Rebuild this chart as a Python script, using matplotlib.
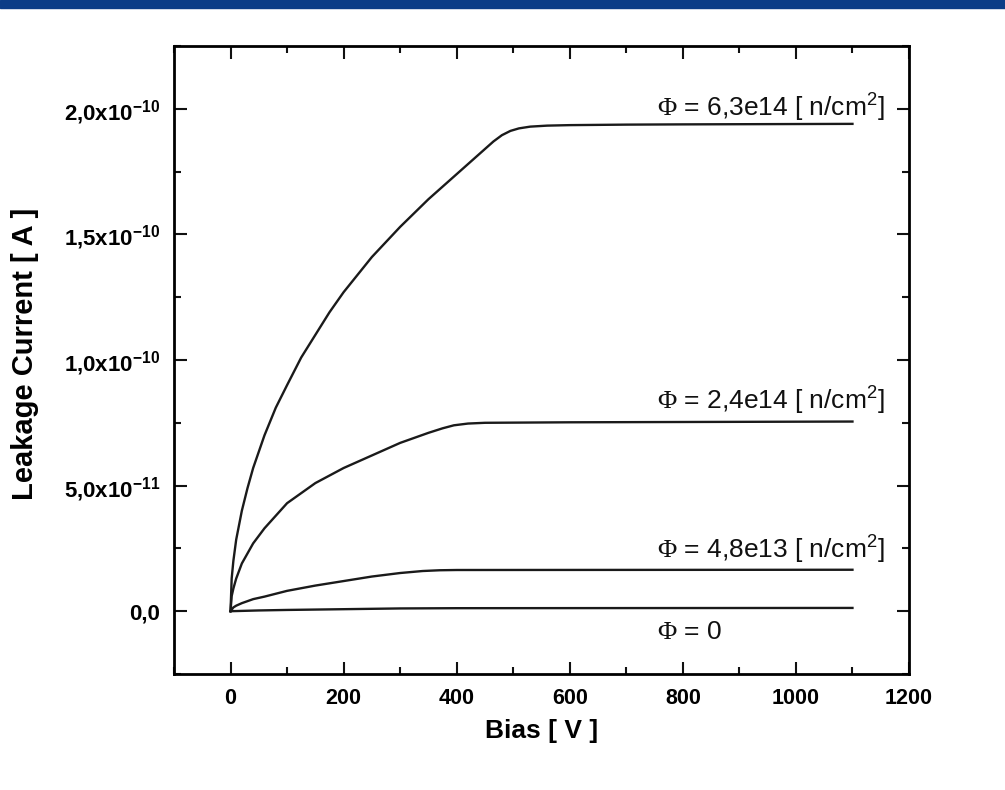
import matplotlib
matplotlib.use("Agg")
from matplotlib import pyplot as plt
from matplotlib.patches import Rectangle
from matplotlib.ticker import MultipleLocator

plt.rcParams['font.family'] = ['Liberation Sans', 'DejaVu Sans']
plt.rcParams['mathtext.default'] = 'regular'
plt.rcParams['mathtext.fontset'] = 'custom'
plt.rcParams['mathtext.rm'] = 'Liberation Serif'

# bias [V] and leakage current [1e-10 A]
phi63_v = [0, 2, 5, 10, 20, 30, 40, 60, 80, 100, 125, 150, 175, 200, 250, 300,
           350, 400, 440, 465, 480, 495, 510, 530, 560, 600, 700, 800, 1100]
phi63_i = [0, 0.13, 0.20, 0.285, 0.40, 0.49, 0.57, 0.70, 0.81, 0.90, 1.01,
           1.10, 1.19, 1.27, 1.41, 1.53, 1.64, 1.74, 1.82, 1.87, 1.895, 1.912,
           1.922, 1.929, 1.933, 1.935, 1.937, 1.938, 1.94]

phi24_v = [0, 2, 5, 10, 20, 40, 60, 80, 100, 150, 200, 250, 300, 350, 375,
           395, 420, 450, 600, 1100]
phi24_i = [0, 0.06, 0.09, 0.13, 0.19, 0.27, 0.33, 0.38, 0.43, 0.51, 0.57,
           0.62, 0.67, 0.71, 0.728, 0.740, 0.747, 0.750, 0.752, 0.755]

phi48_v = [0, 5, 10, 20, 40, 60, 100, 150, 200, 250, 300, 340, 370, 400, 1100]
phi48_i = [0, 0.015, 0.022, 0.032, 0.048, 0.058, 0.081, 0.102, 0.12, 0.138,
           0.152, 0.160, 0.163, 0.164, 0.165]

phi0_v = [0, 50, 100, 200, 300, 400, 1100]
phi0_i = [0, 0.003, 0.005, 0.008, 0.011, 0.012, 0.013]

curves = [(phi63_v, phi63_i), (phi24_v, phi24_i), (phi48_v, phi48_i), (phi0_v, phi0_i)]

labels = [r"$\mathrm{\Phi}$ = 6,3e14 [ n/cm$^{2}$]", r"$\mathrm{\Phi}$ = 2,4e14 [ n/cm$^{2}$]",
          r"$\mathrm{\Phi}$ = 4,8e13 [ n/cm$^{2}$]", r"$\mathrm{\Phi}$ = 0"]
label_y = [2.005, 0.836, 0.246, -0.082]  # in 1e-10 A

y_ticks = [0, 0.5e-10, 1.0e-10, 1.5e-10, 2.0e-10]
y_tick_labels = ["0,0", "5,0x10$^{-11}$", "1,0x10$^{-10}$", "1,5x10$^{-10}$", "2,0x10$^{-10}$"]
x_ticks = [0, 200, 400, 600, 800, 1000, 1200]

fig = plt.figure(figsize=(10.05, 7.9), dpi=100)
fig.patches.append(Rectangle((0, 1 - 8 / 790), 1, 8 / 790, transform=fig.transFigure,
                             color='#0c3d87', zorder=0))
ax = fig.add_axes([174 / 1005, 1 - 674 / 790, 735 / 1005, 628 / 790])

for v, i in curves:
    ax.plot(v, [c * 1e-10 for c in i], color='#1a1a1a', lw=1.7)

for lab, ly in zip(labels, label_y):
    ax.text(755, ly * 1e-10, lab, ha='left', va='center', fontsize=19, color='#111111')

ax.set_xlim(-100, 1200)
ax.set_ylim(-2.5e-11, 2.25e-10)
ax.set_xticks(x_ticks)
ax.set_xticklabels([str(t) for t in x_ticks], fontweight='bold', fontsize=15.5)
ax.set_yticks(y_ticks)
ax.set_yticklabels(y_tick_labels, fontweight='bold', fontsize=16)
ax.xaxis.set_minor_locator(MultipleLocator(100))
ax.yaxis.set_minor_locator(MultipleLocator(2.5e-11))
ax.tick_params(which='both', direction='in', top=True, right=True, width=1.5, color='#111111')
ax.tick_params(which='major', length=9, pad=10)
ax.tick_params(which='minor', length=5)
for s in ax.spines.values():
    s.set_linewidth(2.0)

ax.set_xlabel("Bias [ V ]", fontweight='bold', fontsize=19, labelpad=7)
ax.set_ylabel("Leakage Current [ A ]", fontweight='bold', fontsize=21)
ax.yaxis.set_label_coords(-0.183, 0.51)

plt.savefig('out.png', dpi=100)
